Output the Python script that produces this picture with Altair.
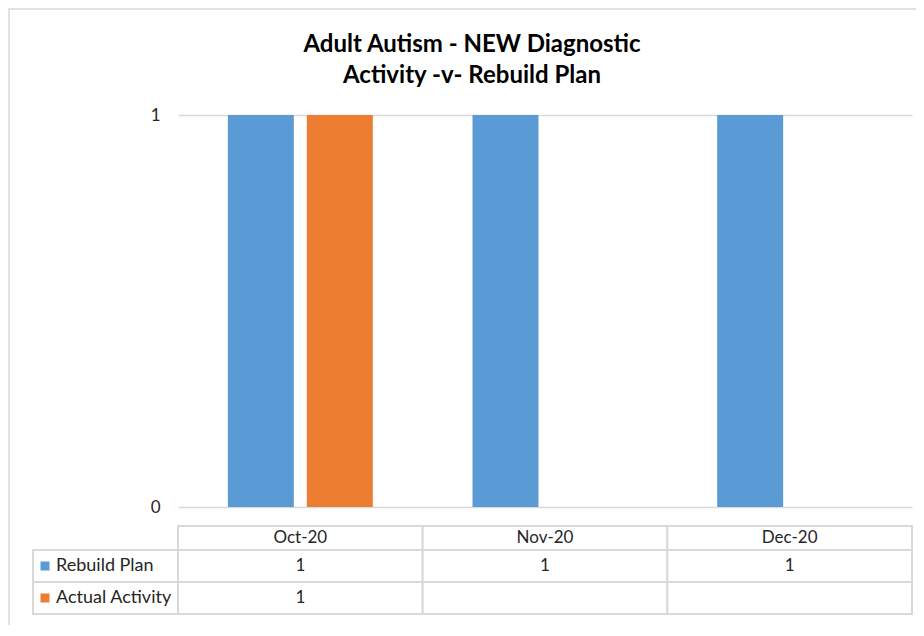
import altair as alt
import pandas as pd

categories = ["Oct-20", "Nov-20", "Dec-20"]
series = ["Rebuild Plan", "Actual Activity"]
rebuild_plan = [1, 1, 1]
actual_activity = [1, None, None]
colors = ["#5b9bd5", "#ed7d31"]
title_lines = ["Adult Autism - NEW Diagnostic", "Activity -v- Rebuild Plan"]

FONT = "Lato"
GRID = "#d9d9d9"
TXT = "#262626"

rows = []
for s, vals in zip(series, [rebuild_plan, actual_activity]):
    for c, v in zip(categories, vals):
        rows.append({"category": c, "series": s, "value": v})
table_df = pd.DataFrame(rows)
table_df["label"] = table_df["value"].apply(lambda v: "" if pd.isna(v) else str(int(v)))
bars_df = table_df.dropna(subset=["value"])
cat_df = pd.DataFrame({"category": categories})
ser_df = pd.DataFrame({"series": series})

xscale = alt.Scale(domain=categories, paddingInner=0, paddingOuter=0)
row_scale = alt.Scale(type="band", domain=series, range=[435, 499], paddingInner=0, paddingOuter=0)
color = alt.Color("series:N", scale=alt.Scale(domain=series, range=colors), legend=None)

border = alt.Chart(pd.DataFrame({"a": [0]})).mark_rect(
    fill=None, stroke=GRID, strokeWidth=1.5
).encode(x=alt.value(-169), x2=alt.value(900), y=alt.value(-106), y2=alt.value(700))

bars = alt.Chart(bars_df).mark_bar().encode(
    x=alt.X("category:N", scale=xscale, axis=None, sort=categories),
    xOffset=alt.XOffset("series:N", scale=alt.Scale(domain=series, paddingInner=0.1646, paddingOuter=0.631)),
    y=alt.Y("value:Q", scale=alt.Scale(domain=[0, 1], nice=False),
            axis=alt.Axis(values=[0, 1], title=None, domain=False, ticks=False, grid=True,
                          gridColor=GRID, gridWidth=1.5, labelFont=FONT, labelFontSize=17,
                          labelColor=TXT, labelPadding=18, format="d")),
    color=color,
)

header_cells = alt.Chart(cat_df).mark_rect(fill="white", stroke=GRID, strokeWidth=2).encode(
    x=alt.X("category:N", scale=xscale, axis=None, sort=categories),
    y=alt.value(411), y2=alt.value(435),
)
header_text = alt.Chart(cat_df).mark_text(font=FONT, fontSize=17, color=TXT).encode(
    x=alt.X("category:N", scale=xscale, axis=None, sort=categories),
    y=alt.value(423), text="category:N",
)

cells = alt.Chart(table_df).mark_rect(fill="white", stroke=GRID, strokeWidth=2).encode(
    x=alt.X("category:N", scale=xscale, axis=None, sort=categories),
    y=alt.Y("series:N", scale=row_scale, axis=None),
)
cell_text = alt.Chart(table_df).mark_text(font=FONT, fontSize=17, color=TXT).encode(
    x=alt.X("category:N", scale=xscale, axis=None, sort=categories),
    y=alt.Y("series:N", scale=row_scale, axis=None),
    text="label:N",
)

left_cells = alt.Chart(ser_df).mark_rect(fill="white", stroke=GRID, strokeWidth=2).encode(
    x=alt.value(-145), x2=alt.value(0),
    y=alt.Y("series:N", scale=row_scale, axis=None),
)
squares = alt.Chart(ser_df).mark_square(size=81, opacity=1).encode(
    x=alt.value(-133),
    y=alt.Y("series:N", scale=row_scale, axis=None),
    color=color,
)
left_text = alt.Chart(ser_df).mark_text(font=FONT, fontSize=18, color=TXT, align="left").encode(
    x=alt.value(-122),
    y=alt.Y("series:N", scale=row_scale, axis=None),
    text="series:N",
)

chart = alt.layer(
    border, bars, header_cells, header_text, cells, cell_text, left_cells, squares, left_text
).resolve_scale(y="independent").properties(
    width=734, height=392,
    title=alt.TitleParams(title_lines, font=FONT, fontSize=24, fontWeight="bold", color="#000000",
                          anchor="middle", dx=-73, offset=-80, lineHeight=31),
    autosize=alt.AutoSizeParams(type="none"),
    padding={"left": 170, "top": 107, "right": 4, "bottom": 118},
).configure_view(stroke=None)

chart.save("out.html", embed_options={"renderer": "svg", "actions": False})
